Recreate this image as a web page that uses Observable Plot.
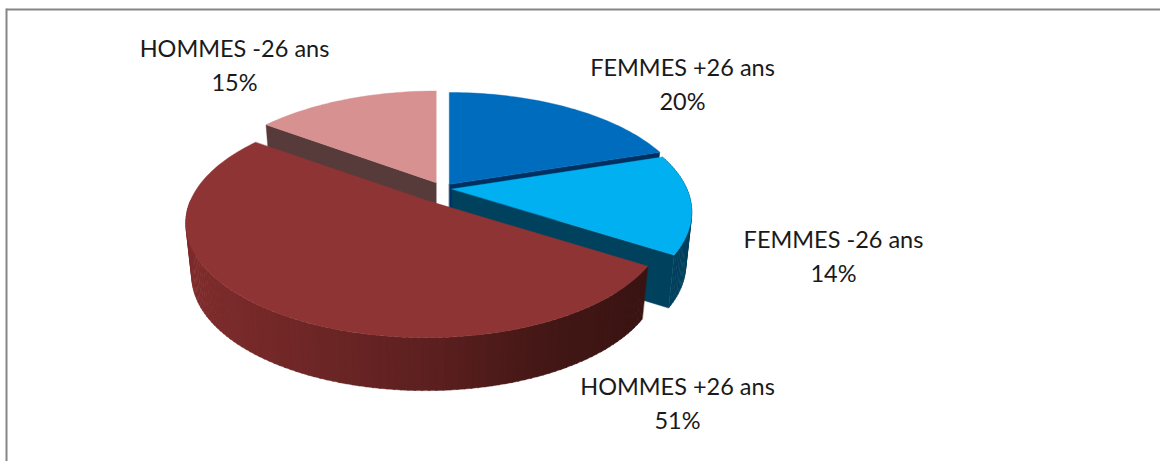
<!DOCTYPE html>
<html><head><meta charset="utf-8">
<script src="https://cdn.jsdelivr.net/npm/d3@7"></script>
<script src="https://cdn.jsdelivr.net/npm/@observablehq/plot@0.6"></script>
<style>html,body{margin:0;padding:0;background:#fff}svg{display:block}</style>
</head><body><div id="chart"></div>
<script>
const categories = ["FEMMES +26 ans", "FEMMES -26 ans", "HOMMES +26 ans", "HOMMES -26 ans"];
const shares = [20, 14, 51, 15];
const explosions = [11.5, 9.5, 30, 14];
const topColors = ["#006cbd", "#00b0f0", "#8e3434", "#d79191"];
const sideColors = ["#00305f", "#00415e", "#7f2c2c", "#573a3a"];
const wallStops = ["#7f2c2c", "#5e2020", "#421715", "#3a1412"];
const labelX = [682, 833, 677, 234];
const labelY = [81.5, 253.5, 401, 62.5];

const W = 1160, H = 461;
const view = {cx: 442, cy: 188, a: 235, b: 110, k: 0.2, depth: 53, lower: 0.975};
const pie = d3.pie().sort(null)(shares);
const slices = categories.map((c, i) => {
  const mid = (pie[i].startAngle + pie[i].endAngle) / 2;
  const e = explosions[i];
  return {i, c, a0: pie[i].startAngle, a1: pie[i].endAngle,
    ox: view.cx + e * Math.sin(mid),
    oy: view.cy - e * Math.cos(mid) * view.b / view.a};
});
const d = view.depth;
function rim(s, ang, dz = 0) {
  const u = Math.sin(ang), v = -Math.cos(ang), w = 1 / (1 - view.k * v);
  const sc = dz ? view.lower : 1;
  return [s.ox + sc * view.a * u * w, s.oy + view.b * v * w + dz];
}
function apex(s, dz = 0) { return [s.ox, s.oy + dz]; }
function arc(s, a0, a1, dz = 0) {
  const n = Math.max(2, Math.ceil((a1 - a0) * 40));
  return d3.range(n + 1).map(j => rim(s, a0 + (a1 - a0) * j / n, dz));
}
const polys = [];
let pid = 0;
function add(points, fill) {
  const id = pid++;
  points.forEach(p => polys.push({x: p[0], y: p[1], id, fill}));
}
function radialFace(s, ang, fill) {
  add([apex(s), rim(s, ang), rim(s, ang, d), apex(s, d)], fill);
}
function wall(s, a0, a1, colorAt) {
  const n = Math.ceil((a1 - a0) * 40);
  for (let j = 0; j < n; j++) {
    const p = a0 + (a1 - a0) * j / n, q = Math.min(a1, a0 + (a1 - a0) * (j + 1.2) / n);
    add([...arc(s, p, q), ...arc(s, p, q, d).reverse()], colorAt(rim(s, (p + q) / 2)[0]));
  }
}
function face(s) { add([apex(s), ...arc(s, s.a0, s.a1)], topColors[s.i]); }
const [s0, s1, s2, s3] = slices;
const wallColor = d3.scaleLinear().domain([190, 420, 550, 640]).range(wallStops).clamp(true);
// painter's order, back to front
radialFace(s3, s3.a0, sideColors[3]); face(s3);
radialFace(s0, s0.a1, sideColors[0]); face(s0);
radialFace(s1, s1.a1, sideColors[1]);
wall(s1, s1.a0, s1.a1, () => sideColors[1]); face(s1);
wall(s2, s2.a0, Math.PI * 1.5, wallColor);
face(s2);

const frame = [
  {x1: 6, y1: 9, x2: 1160, y2: 9},
  {x1: 6, y1: 8, x2: 6, y2: 461}
];
const labels = categories.map((c, i) => ({text: `${c}\n${shares[i]}%`, x: labelX[i], y: labelY[i]}));

const chart = Plot.plot({
  width: W, height: H, margin: 0,
  x: {domain: [0, W], range: [0, W], axis: null},
  y: {domain: [0, H], range: [0, H], axis: null},
  marks: [
    Plot.link(frame, {x1: "x1", y1: "y1", x2: "x2", y2: "y2", stroke: "#868686", strokeWidth: 2}),
    Plot.line(polys, {x: "x", y: "y", z: "id", fill: "fill", stroke: "fill", strokeWidth: 0.4, curve: "linear-closed"}),
    Plot.text(labels, {x: "x", y: "y", text: "text", fontSize: 23.5, lineHeight: 1.43, fill: "#1a1a1a", fontFamily: "Lato", textAnchor: "middle"})
  ]
});
document.getElementById("chart").appendChild(chart);
</script></body></html>
